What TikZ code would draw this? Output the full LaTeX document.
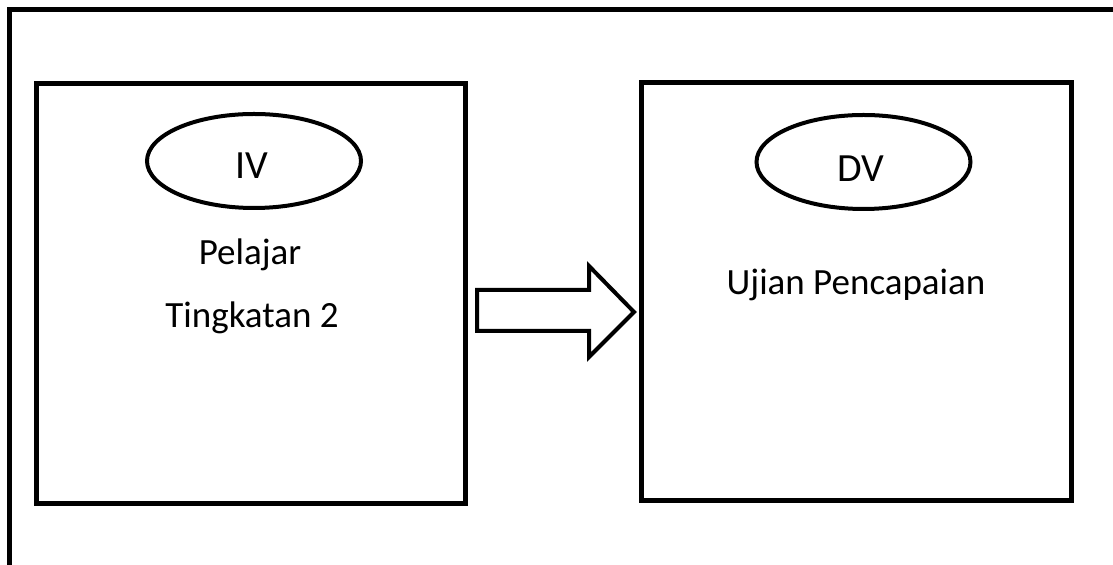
\documentclass[tikz,border=0pt]{standalone}
\usepackage{fontspec}
\setmainfont{Carlito}
\usetikzlibrary{shapes.geometric}
\begin{document}
\begin{tikzpicture}[x=0.5pt,y=-0.5pt,
  frameline/.style={line width=2.5pt},
  varbox/.style={draw,line width=2.5pt,rectangle,inner sep=0pt},
  varoval/.style={draw,line width=2pt,ellipse,inner sep=0pt,minimum width=107pt,minimum height=47pt},
  label/.style={font=\fontsize{18.5}{22}\selectfont,anchor=base,inner sep=0pt},
  ovaltext/.style={font=\fontsize{20}{24}\selectfont,anchor=base,inner sep=0pt},
  blockarrow/.style={draw,line width=2pt,line join=miter}]
\useasboundingbox (0,0) rectangle (1113,565);
% outer frame (open at the right and the bottom)
\draw[frameline] (9.5,565) -- (9.5,10) -- (1113,10);
% the two variable boxes
\node[varbox,minimum width=214.5pt,minimum height=210pt] (lbox) at (250.5,294) {};
\node[varbox,minimum width=215pt,minimum height=209pt] (rbox) at (856,292) {};
% ovals
\node[varoval] (ivoval) at (254,161) {};
\node[varoval] (dvoval) at (863.5,162) {};
\node[ovaltext] (iv) at (252,179) {IV};
\node[ovaltext] (dv) at (861,182) {DV};
% texts
\node[label] (pelajar) at (250,265) {Pelajar};
\node[label] (tingkatan) at (252,328) {Tingkatan 2};
\node[label] (ujian) at (856,295) {Ujian Pencapaian};
% block arrow from the left box to the right box
\coordinate (atail) at (477,310.5);
\draw[blockarrow] (atail) ++(0,-20.5) -- ++(112,0) -- (589,266) -- (634,312)
  -- (589,357) -- (589,331) -- (477,331) -- cycle;
\end{tikzpicture}
\end{document}
